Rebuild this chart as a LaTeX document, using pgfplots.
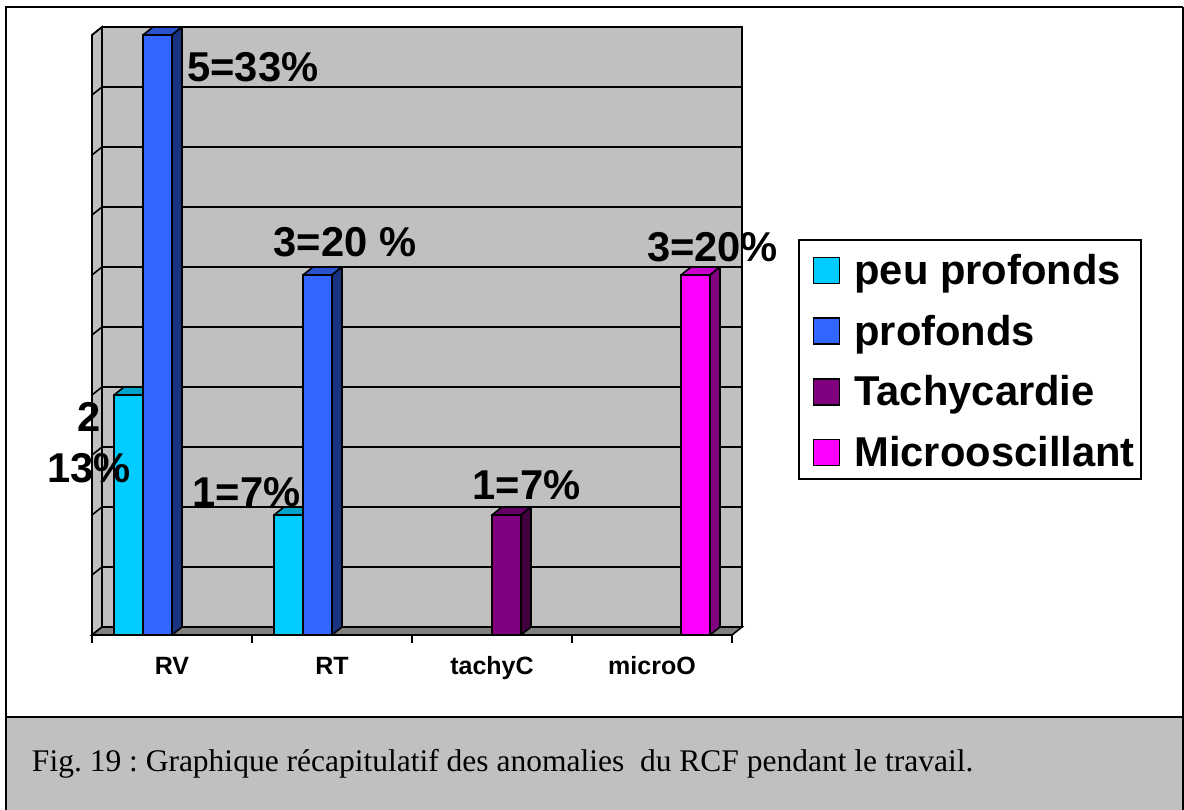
\documentclass[border=0pt]{standalone}
\usepackage{pgfplots}
\pgfplotsset{compat=1.18}
\usepackage{fontspec}
\setmainfont{Liberation Sans}
\newfontfamily\capfont{Liberation Serif}
\definecolor{cPeu}{HTML}{00CCFF}
\definecolor{cPeuT}{HTML}{00A3CC}
\definecolor{cPeuS}{HTML}{006680}
\definecolor{cPro}{HTML}{3366FF}
\definecolor{cProT}{HTML}{2952CC}
\definecolor{cProS}{HTML}{1A3380}
\definecolor{cTa}{HTML}{800080}
\definecolor{cTaT}{HTML}{660066}
\definecolor{cTaS}{HTML}{400040}
\definecolor{cMi}{HTML}{FF00FF}
\definecolor{cMiT}{HTML}{CC00CC}
\definecolor{cMiS}{HTML}{800080}
\definecolor{wall}{HTML}{C0C0C0}
\definecolor{floorc}{HTML}{808080}
\newcommand{\lfont}{\bfseries\fontsize{20.85}{24}\selectfont}
\tikzset{s/.style={xshift=5pt,yshift=4pt}}
\newcommand{\prism}[5]{%
  \filldraw[fill=#4, draw=black, line width=0.8pt, line join=round] (axis cs:#1,#3) -- ([s]axis cs:#1,#3) -- ([s]axis cs:#2,#3) -- (axis cs:#2,#3) -- cycle;
  \filldraw[fill=#5, draw=black, line width=0.8pt, line join=round] (axis cs:#2,0) -- ([s]axis cs:#2,0) -- ([s]axis cs:#2,#3) -- (axis cs:#2,#3) -- cycle;}
\pgfplotsset{mybar/.style={ybar, bar width=14.5pt, draw=black, line width=0.8pt,
  legend image code/.code={\path (0pt,0pt); \draw[##1, draw=black, line width=0.8pt] (4pt,-7.5pt) rectangle (17pt,5.5pt);}}}
\frenchspacing
\begin{document}
\begin{tikzpicture}
\useasboundingbox (-46pt,-87pt) rectangle (546pt,317.5pt);
\fill[wall] (-43pt,-41pt) rectangle (545.5pt,-90pt);
\draw[line width=1pt] (-43pt,-92pt) -- (-43pt,314pt) -- (545.5pt,314pt);
\draw[line width=1.5pt] (545.5pt,314pt) -- (545.5pt,-92pt);
\draw[line width=1pt] (-43pt,-41pt) -- (545.5pt,-41pt);
\node[anchor=base west, inner sep=0pt, font=\capfont\fontsize{15.75}{18}\selectfont] at (-30.2pt,-68pt) {Fig. 19 : Graphique récapitulatif des anomalies\ \ du RCF pendant le travail.};
\begin{axis}[at={(0,0)}, anchor=south west, scale only axis, width=320pt, height=300pt,
  xmin=-0.5, xmax=3.5, ymin=0, ymax=5, clip=false,
  axis line style={draw=none}, xtick={0,1,2,3}, xticklabels={RV,RT,tachyC,microO},
  ytick=\empty, major tick length=0pt,
  xticklabel style={anchor=base, inner sep=0pt, yshift=-19.5pt, font=\bfseries\fontsize{12.5}{14}\selectfont},
  legend style={at={(1.103125,0.66)}, anchor=north west, draw=black, line width=0.8pt,
    font=\lfont, inner xsep=3pt, inner ysep=2pt, row sep=5.5pt,
    nodes={inner sep=0pt, text height=20.4pt, text depth=4.4pt},
    /tikz/every odd column/.style={column sep=7pt}},
  legend cell align=left]
% back wall
\filldraw[fill=wall, draw=black, line width=0.8pt] ([s]axis cs:-0.5,0) rectangle ([s]axis cs:3.5,5);
% left wall
\filldraw[fill=wall, draw=black, line width=0.8pt] (axis cs:-0.5,0) -- ([s]axis cs:-0.5,0) -- ([s]axis cs:-0.5,5) -- (axis cs:-0.5,5) -- cycle;
% grid
\pgfplotsinvokeforeach{0.5,1,1.5,2,2.5,3,3.5,4,4.5,5}{
  \draw[line width=0.8pt] (axis cs:-0.5,#1) -- ([s]axis cs:-0.5,#1) -- ([s]axis cs:3.5,#1);
}
% floor
\filldraw[fill=floorc, draw=black, line width=0.8pt] (axis cs:-0.5,0) -- (axis cs:3.5,0) -- ([s]axis cs:3.5,0) -- ([s]axis cs:-0.5,0) -- cycle;
% x ticks
\pgfplotsinvokeforeach{-0.5,0.5,1.5,2.5,3.5}{
  \draw[line width=0.8pt] (axis cs:#1,0) -- ++(0pt,-4pt);
}
% 3D faces
\prism{-0.3625}{-0.18125}{2}{cPeuT}{cPeuS}
\prism{-0.18125}{0}{5}{cProT}{cProS}
\prism{0.6375}{0.81875}{1}{cPeuT}{cPeuS}
\prism{0.81875}{1}{3}{cProT}{cProS}
\prism{2}{2.18125}{1}{cTaT}{cTaS}
\prism{3.18125}{3.3625}{3}{cMiT}{cMiS}
% front faces
\addplot[mybar, fill=cPeu, bar shift=-21.75pt] coordinates {(0,2) (1,1)};
\addplot[mybar, fill=cPro, bar shift=-7.25pt] coordinates {(0,5) (1,3)};
\addplot[mybar, fill=cTa, bar shift=7.25pt] coordinates {(2,1)};
\addplot[mybar, fill=cMi, bar shift=21.75pt] coordinates {(3,3)};
\legend{peu profonds, profonds, Tachycardie, Microoscillant}
\end{axis}
\node[anchor=base west, inner sep=0pt, font=\lfont] at (47.5pt,276.5pt) {5=33\%};
\node[anchor=base, inner sep=0pt, font=\lfont] at (-1.5pt,101.5pt) {2};
\node[anchor=base, inner sep=0pt, font=\lfont] at (-1.5pt,76pt) {13\%};
\node[anchor=base, inner sep=0pt, font=\lfont] at (77.25pt,64pt) {1=7\%};
\node[anchor=base, inner sep=0pt, font=\lfont] at (126.5pt,189pt) {3=20 \%};
\node[anchor=base, inner sep=0pt, font=\lfont] at (217.25pt,67.5pt) {1=7\%};
\node[anchor=base, inner sep=0pt, font=\lfont] at (310.25pt,186.5pt) {3=20\%};
\end{tikzpicture}
\end{document}
